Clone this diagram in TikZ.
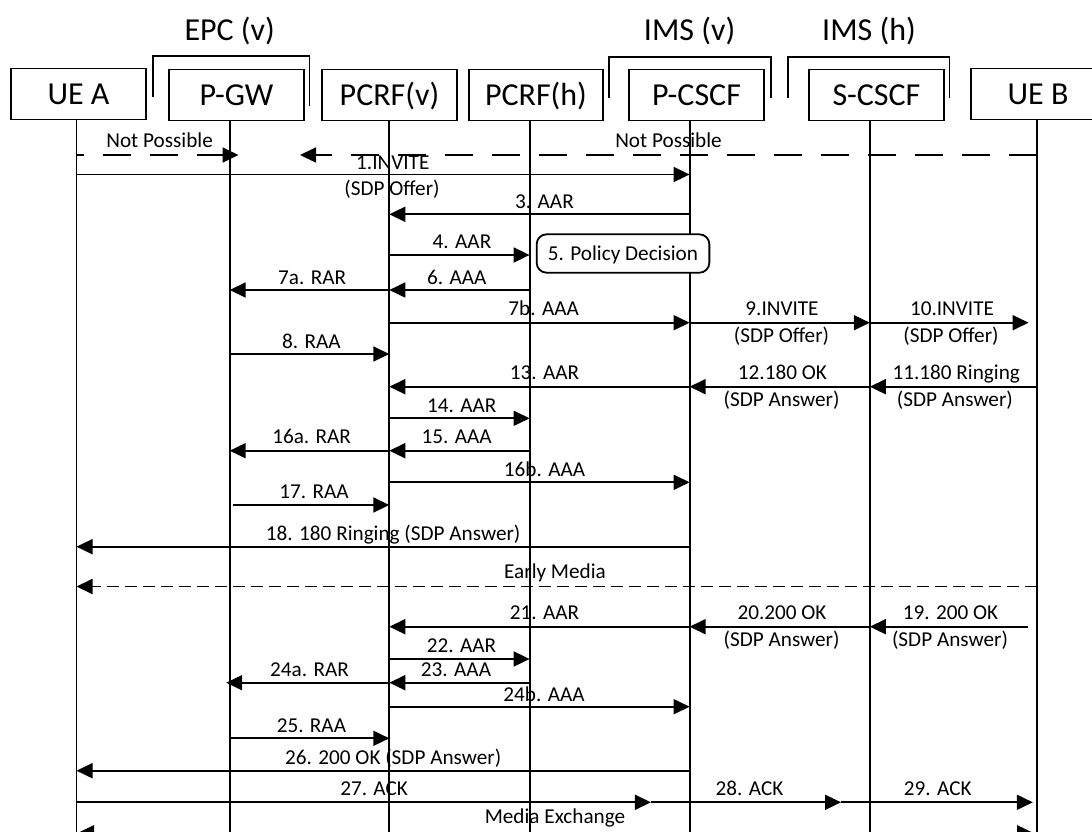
\documentclass[tikz,border=0pt]{standalone}
\usepackage{fontspec}
\setmainfont{Carlito}
\usetikzlibrary{arrows.meta,calc}
\begin{document}
\begin{tikzpicture}[x=1pt,y=-1pt,
  ent/.style={draw, line width=1.8pt, minimum height=51pt, inner sep=0pt, text height=20.6pt, text depth=0pt, font=\fontsize{32}{32}\selectfont},
  grp/.style={inner sep=0pt, font=\fontsize{32}{32}\selectfont},
  lbl/.style={inner sep=0pt, anchor=base, yshift=-6.6pt, font=\fontsize{21.2}{21.2}\selectfont},
  life/.style={line width=1.8pt},
  brk/.style={line width=1.8pt},
  msg/.style={line width=1.8pt, -{Triangle[length=16pt,width=15pt]}},
  npline/.style={msg, dash pattern=on 28pt off 19pt},
  emline/.style={msg, dash pattern=on 12pt off 6pt},
  mxline/.style={line width=1.8pt, {Triangle[length=16pt,width=15pt]}-{Triangle[length=16pt,width=15pt]}, dash pattern=on 10pt off 5pt},
  pdbox/.style={draw, line width=1.8pt, rounded corners=10pt, fill=white, inner sep=0pt, text height=13.6pt, text depth=0pt, font=\fontsize{21.2}{21.2}\selectfont}
]
\useasboundingbox (0,0) rectangle (1092,832);
\fill[white] (0,0) rectangle (1092,832);

% group titles
\node[grp] (tepc) at (229.7,31) {EPC (v)};
\node[grp] (timsv) at (689.6,31) {IMS (v)};
\node[grp] (timsh) at (869,31) {IMS (h)};
% brackets
\draw[brk] (152.6,97) -- (152.6,56) -- (309.4,56) -- (309.4,106);
\draw[brk] (609.3,98) -- (609.3,57) -- (771.3,57) -- (771.3,98);
\draw[brk] (788.2,98) -- (788.2,57) -- (949.4,57) -- (949.4,98);

% entities
\node[ent, minimum width=135pt] (uea) at (78.5,94) {UE A};
\node[ent, minimum width=135pt] (pgw) at (236.5,95) {P-GW};
\node[ent, minimum width=135pt] (pcrfv) at (389.5,95) {PCRF(v)};
\node[ent, minimum width=134pt] (pcrfh) at (536,95) {PCRF(h)};
\node[ent, minimum width=135pt] (pcscf) at (696.5,95) {P-CSCF};
\node[ent, minimum width=135pt] (scscf) at (876.5,95) {S-CSCF};
\node[ent, minimum width=134pt] (ueb) at (1038,94) {UE B};

% lifeline x positions
\coordinate (A) at (76.5,0);
\coordinate (G) at (229.7,0);
\coordinate (V) at (389.3,0);
\coordinate (H) at (529.6,0);
\coordinate (P) at (689.6,0);
\coordinate (S) at (869.8,0);
\coordinate (B) at (1037,0);

% lifelines
\draw[life] (uea.south -| A) -- ($(A)+(0,832)$);
\draw[life] (pgw.south -| G) -- ($(G)+(0,832)$);
\draw[life] (pcrfv.south -| V) -- ($(V)+(0,832)$);
\draw[life] (pcrfh.south -| H) -- ($(H)+(0,832)$);
\draw[life] (pcscf.south -| P) -- ($(P)+(0,832)$);
\draw[life] (scscf.south -| S) -- ($(S)+(0,832)$);
\draw[life] (ueb.south -| B) -- ($(B)+(0,832)$);

% Not possible
\coordinate (np1) at (238.5,155);
\coordinate (np2) at (300,155);
\draw[npline, dash phase=21pt] ($(A)+(0,155)$) -- (np1);
\draw[npline] ($(B)+(0,155)$) -- (np2);
\node[lbl] (lnp1) at (159.6,140.5) {Not Possible};
\node[lbl] (lnp2) at (668.5,140.5) {Not Possible};

% 1
\draw[msg] ($(A)+(0,174.5)$) -- ($(P)+(0,174.5)$);
\node[lbl] (l1a) at (392.8,162.5) {1.INVITE};
\node[lbl] (l1b) at (392,189) {(SDP Offer)};
% 3
\draw[msg] ($(P)+(0,214.3)$) -- ($(V)+(0,214.3)$);
\node[lbl] (l3) at (544.5,202) {3. AAR};
% 4
\draw[msg] ($(V)+(0,255)$) -- ($(H)+(0,255)$);
\node[lbl] (l4) at (462,242) {4. AAR};
% 5
\node[pdbox, minimum width=172.7pt, minimum height=38.4pt] (pd) at (623,253.5) {5. Policy Decision};
% 6, 7a
\draw[msg] ($(H)+(0,290)$) -- ($(V)+(0,290)$);
\node[lbl] (l6) at (456.8,277.7) {6. AAA};
\draw[msg] ($(V)+(0,290)$) -- ($(G)+(0,290)$);
\node[lbl] (l7a) at (312.2,277.7) {7a. RAR};
% 7b, 9, 10
\draw[msg] ($(V)+(0,322.7)$) -- ($(P)+(0,322.7)$);
\node[lbl] (l7b) at (543.7,309.3) {7b. AAA};
\draw[msg] ($(P)+(0,322.7)$) -- ($(S)+(0,322.7)$);
\node[lbl] (l9a) at (782,309.3) {9.INVITE};
\node[lbl] (l9b) at (781.5,336) {(SDP Offer)};
\coordinate (t10) at (1028.6,322.7);
\draw[msg] ($(S)+(0,322.7)$) -- (t10);
\node[lbl] (l10a) at (952,309.3) {10.INVITE};
\node[lbl] (l10b) at (951,336) {(SDP Offer)};
% 8
\draw[msg] ($(G)+(0,354)$) -- ($(V)+(0,354)$);
\node[lbl] (l8) at (311.5,341.7) {8. RAA};
% 11, 12, 13
\draw[msg] ($(B)+(0,386.7)$) -- ($(S)+(0,386.7)$);
\node[lbl] (l11a) at (956.2,373.3) {11.180 Ringing};
\node[lbl] (l11b) at (954.9,400) {(SDP Answer)};
\draw[msg] ($(S)+(0,386.7)$) -- ($(P)+(0,386.7)$);
\node[lbl] (l12a) at (782.4,373.3) {12.180 OK};
\node[lbl] (l12b) at (781.6,400) {(SDP Answer)};
\draw[msg] ($(P)+(0,386.7)$) -- ($(V)+(0,386.7)$);
\node[lbl] (l13) at (544.5,373.3) {13. AAR};
% 14
\draw[msg] ($(V)+(0,418.3)$) -- ($(H)+(0,418.3)$);
\node[lbl] (l14) at (461.8,405.7) {14. AAR};
% 15, 16a
\draw[msg] ($(H)+(0,450.7)$) -- ($(V)+(0,450.7)$);
\node[lbl] (l15) at (456.7,437.3) {15. AAA};
\draw[msg] ($(V)+(0,450.7)$) -- ($(G)+(0,450.7)$);
\node[lbl] (l16a) at (311.6,437.3) {16a. RAR};
% 16b
\draw[msg] ($(V)+(0,482.3)$) -- ($(P)+(0,482.3)$);
\node[lbl] (l16b) at (544.5,470) {16b. AAA};
% 17
\coordinate (s17) at (233.2,505);
\draw[msg] (s17) -- ($(V)+(0,505)$);
\node[lbl] (l17) at (314.1,491.7) {17. RAA};
% 18
\draw[msg] ($(P)+(0,546.7)$) -- ($(A)+(0,546.7)$);
\node[lbl] (l18) at (393.2,534) {18. 180 Ringing (SDP Answer)};
% early media
\draw[emline] ($(B)+(0,586.5)$) -- ($(A)+(0,586.5)$);
\node[lbl] (lem) at (555,572) {Early Media};
% 19, 20, 21
\coordinate (s19) at (1027.5,626.7);
\draw[msg] (s19) -- ($(S)+(0,626.7)$);
\node[lbl] (l19a) at (950.6,613.3) {19. 200 OK};
\node[lbl] (l19b) at (950,640) {(SDP Answer)};
\draw[msg] ($(S)+(0,626.7)$) -- ($(P)+(0,626.7)$);
\node[lbl] (l20a) at (782,613.3) {20.200 OK};
\node[lbl] (l20b) at (781.6,640) {(SDP Answer)};
\draw[msg] ($(P)+(0,626.7)$) -- ($(V)+(0,626.7)$);
\node[lbl] (l21) at (544.5,613.3) {21. AAR};
% 22
\draw[msg] ($(V)+(0,659)$) -- ($(H)+(0,659)$);
\node[lbl] (l22) at (461.5,645.7) {22. AAR};
% 23, 24a
\draw[msg] ($(H)+(0,682.7)$) -- ($(V)+(0,682.7)$);
\node[lbl] (l23) at (456,670) {23. AAA};
\coordinate (t24a) at (226.2,682.7);
\draw[msg] ($(V)+(0,682.7)$) -- (t24a);
\node[lbl] (l24a) at (309.5,670) {24a. RAR};
% 24b
\draw[msg] ($(V)+(0,706.7)$) -- ($(P)+(0,706.7)$);
\node[lbl] (l24b) at (544,695) {24b. AAA};
% 25
\draw[msg] ($(G)+(0,738.3)$) -- ($(V)+(0,738.3)$);
\node[lbl] (l25) at (311.4,725.7) {25. RAA};
% 26
\draw[msg] ($(P)+(0,770.7)$) -- ($(A)+(0,770.7)$);
\node[lbl] (l26) at (393.2,757.7) {26. 200 OK (SDP Answer)};
% 27, 28, 29
\coordinate (t27) at (650.9,802.3);
\coordinate (t28) at (841,802.3);
\coordinate (t29) at (1032.8,802.3);
\draw[msg] ($(A)+(0,802.3)$) -- (t27);
\draw[msg] (t27) -- (t28);
\draw[msg] (t28) -- (t29);
\node[lbl] (l27) at (374.1,789.3) {27. ACK};
\node[lbl] (l28) at (749.5,789.3) {28. ACK};
\node[lbl] (l29) at (937.8,789.3) {29. ACK};
% media exchange
\coordinate (mx1) at (78,832.8);
\coordinate (mx2) at (1033,832.8);
\draw[mxline] (mx1) -- (mx2);
\node[lbl] (lmx) at (555,817.3) {Media Exchange};
\end{tikzpicture}
\end{document}
